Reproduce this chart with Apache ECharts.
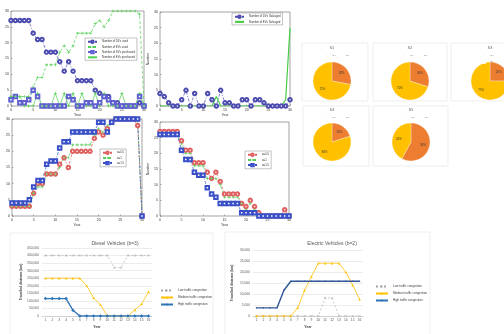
<!DOCTYPE html>
<html>
<head>
<meta charset="utf-8">
<script src="https://cdn.jsdelivr.net/npm/echarts@6/dist/echarts.min.js"></script>
<style>
html, body { margin: 0; padding: 0; background: #fff; }
#chart { width: 504px; height: 334px; }
</style>
</head>
<body>
<div id="chart"></div>
<script>
// simulation panels: one value per year
const years = [0,1,2,3,4,5,6,7,8,9,10,11,12,13,14,15,16,17,18,19,20,21,22,23,24,25,26,27,28,29,30];

const dvUsed      = [27,27,27,27,27,23,21,21,17,17,17,14,11,14,11,8,8,8,8,5,4,3,3,1,1,0,0,0,0,1,0];
const evUsed      = [3,3,3,3,3,6,9,9,13,13,13,17,19,17,19,23,23,23,23,26,27,25,27,30,30,30,30,30,30,29,0];
const dvPurchased = [2,3,1,1,2,5,3,0,0,0,0,0,0,3,2,0,0,1,1,0,1,3,2,1,0,0,0,0,0,3,0];
const evPurchased = [3,3,3,0,0,0,4,0,0,0,4,0,4,0,4,0,4,0,0,4,0,4,0,0,0,4,0,0,0,4,0];

const dvSalvaged = [4,3,1,0,0,2,5,0,4,0,0,4,2,0,5,1,1,0,0,2,2,0,2,2,1,0,0,0,0,0,2];
const evSalvaged = [0,0,0,0,0,0,0,0,0,0,0,0,0,3,0,0,0,0,0,0,0,0,0,0,0,0,0,0,0,2,25];

const riseA = [3,3,3,3,3,7,10,10,13,13,13,16,18,15,20,20,20,20,20,24,26,25,27,29,30,30,30,30,30,28,0];
const riseB = [3,3,3,3,3,7,9,9,13,13,13,15,18,18,22,22,22,22,22,25,27,26,28,29,30,30,30,30,30,30,0];
const riseC = [4,4,4,4,5,9,11,11,16,17,17,21,23,23,26,26,26,26,26,26,29,29,26,29,30,30,30,30,30,30,0];

const fallA = [27,27,27,27,27,24,21,21,17,17,17,14,12,14,11,7,7,7,7,4,3,5,3,1,0,0,0,0,0,2,0];
const fallB = [26,26,26,26,26,23,20,20,16,16,16,12,12,12,10,6,6,6,6,4,2,4,2,0,0,0,0,0,0,0,0];
const fallC = [26,26,26,26,26,21,18,18,14,13,13,9,7,6,4,4,4,4,4,1,1,1,1,0,0,0,0,0,0,0,0];

// pies
const pieTitles = ['S1','S2','S3','S4','S5'];
const pieDV = [28,30,25,20,58];
const pieEV = [72,70,75,80,42];

// bottom charts
const periods = ['1','2','3','4','5','6','7','8','9','10','11','12','13','14','15','16'];
const dieselLow  = [400000,400000,400000,400000,400000,400000,400000,400000,400000,400000,320000,320000,400000,400000,400000,400000];
const dieselMed  = [250000,250000,250000,250000,250000,250000,200000,120000,75000,0,0,0,0,40000,80000,160000];
const dieselHigh = [115000,115000,115000,115000,38000,0,0,0,0,0,0,0,0,0,0,0];
const elecLow  = [0,0,0,0,0,0,0,0,0,0,8200,8200,0,0,0,0];
const elecMed  = [0,0,0,0,0,0,3700,11700,18000,24000,24000,24000,24000,20000,14000,7600];
const elecHigh = [3700,3700,3700,3700,11700,15800,15800,15800,15800,15800,15800,15800,15800,15800,15800,15800];

const FONT = 'Liberation Sans';
const PLUS = 'path://M4,0H6V4H10V6H6V10H4V6H0V4H4Z';
const CROSS = 'path://M0,1L1,0L5,4L9,0L10,1L6,5L10,9L9,10L5,6L1,10L0,9L4,5Z';
const DASHDOT = [3, 1.5, 1, 1.5];

const pts = arr => arr.map((v, i) => [years[i], v]);

function mGrid(left, top, width, height) {
	return { left, top, width, height, show: true, borderColor: '#666', borderWidth: 0.6, backgroundColor: '#fff' };
}
function mX(gi, name) {
	return {
		gridIndex: gi, type: 'value', min: 0, max: 30, interval: 5,
		name, nameLocation: 'middle', nameGap: 7, nameTextStyle: { fontSize: 3.5, color: '#333', fontFamily: FONT },
		axisLine: { show: false }, axisTick: { inside: true, length: 1.5, lineStyle: { color: '#666', width: 0.5 } },
		axisLabel: { fontSize: 3.5, margin: 2, color: '#333', fontFamily: FONT }, splitLine: { show: false },
	};
}
function mY(gi, name) {
	return {
		gridIndex: gi, type: 'value', min: 0, max: 30, interval: 5,
		name, nameLocation: 'middle', nameGap: 7, nameTextStyle: { fontSize: 3.5, color: '#333', fontFamily: FONT },
		axisLine: { show: false }, axisTick: { inside: true, length: 1.5, lineStyle: { color: '#666', width: 0.5 } },
		axisLabel: { fontSize: 3.5, margin: 2, color: '#333', fontFamily: FONT }, splitLine: { show: false },
	};
}
function mLine(gi, name, data, color, symbol, type, width) {
	return {
		type: 'line', name, xAxisIndex: gi, yAxisIndex: gi, data: pts(data),
		symbol, symbolSize: symbol === 'none' ? 0 : (symbol === PLUS ? 3 : 3.5),
		itemStyle: { color, borderWidth: 0.7 },
		lineStyle: { color, width: width || 0.7, type },
		animation: false,
	};
}
function mLegend(left, top, names) {
	return {
		data: names, left, top, orient: 'vertical', itemWidth: 9, itemHeight: 3, itemGap: 1.5,
		padding: [1.5, 2], backgroundColor: '#fff', borderColor: '#666', borderWidth: 0.4,
		textStyle: { fontSize: 2.8, color: '#333', fontFamily: FONT }, selectedMode: false,
	};
}

// excel style charts
function xGrid(left, top, width, height) {
	return { left, top, width, height };
}
function xX(gi) {
	return {
		gridIndex: gi, type: 'category', data: periods, boundaryGap: true,
		name: 'Year', nameLocation: 'middle', nameGap: 9, nameTextStyle: { fontSize: 3.5, color: '#404040', fontFamily: FONT, fontWeight: 'bold' },
		axisLine: { lineStyle: { color: '#bfbfbf', width: 0.6 } }, axisTick: { show: false },
		axisLabel: { interval: 0, fontSize: 3.3, margin: 3, color: '#595959', fontFamily: FONT },
	};
}
function xY(gi, max, interval) {
	return {
		gridIndex: gi, type: 'value', min: 0, max, interval,
		name: 'Travelled distance (km)', nameLocation: 'middle', nameGap: 19,
		nameTextStyle: { fontSize: 3.3, color: '#404040', fontFamily: FONT, fontWeight: 'bold' },
		axisLine: { show: false }, axisTick: { show: false },
		axisLabel: { fontSize: 3.3, margin: 3, color: '#595959', fontFamily: FONT },
		splitLine: { lineStyle: { color: '#d9d9d9', width: 0.5 } },
	};
}
function xLine(gi, name, data, color, symbol, size, type, width) {
	return {
		type: 'line', name, xAxisIndex: gi, yAxisIndex: gi, data,
		symbol, symbolSize: size, itemStyle: { color },
		lineStyle: { color, width, type }, animation: false,
	};
}
function xLegend(left, top, names) {
	return {
		data: names, left, top, orient: 'vertical', itemWidth: 12, itemHeight: 3, itemGap: 4,
		textStyle: { fontSize: 3, color: '#404040', fontFamily: FONT }, selectedMode: false,
	};
}

// pies
const pieCenters = [[332, 81], [410, 81], [490, 81], [332, 142], [411, 142]];
const pieTitleTop = [46, 46, 46, 108, 108];
const pieColors = ['#ed7d31', '#ffc000'];

const legendNames1 = ['Number of DVs used', 'Number of EVs used', 'Number of DVs purchased', 'Number of EVs purchased'];
const legendNames2 = ['Number of DVs Salvaged', 'Number of EVs Salvaged'];
const legendNames3 = ['α=0.5', 'α=1', 'α=1.5'];
const trafficNames = ['Low traffic congestion', 'Medium traffic congestion', 'High traffic congestion'];

const series = [
	mLine(0, legendNames1[0], dvUsed, '#4b4bb0', 'emptyCircle', DASHDOT),
	mLine(0, legendNames1[1], evUsed, '#52d152', PLUS, [3, 2]),
	mLine(0, legendNames1[2], dvPurchased, '#6060d0', 'emptyRect', DASHDOT),
	mLine(0, legendNames1[3], evPurchased, '#52d152', PLUS, 'solid'),
	mLine(1, legendNames2[0], dvSalvaged, '#4b4bb0', 'emptyCircle', DASHDOT),
	mLine(1, legendNames2[1], evSalvaged, '#44cc44', 'none', 'solid', 1.2),
	mLine(2, legendNames3[0], riseA, '#e06060', 'emptyCircle', DASHDOT),
	mLine(2, legendNames3[1], riseB, '#5ccc5c', PLUS, [3, 2]),
	mLine(2, legendNames3[2], riseC, '#3a50c8', 'emptyRect', DASHDOT),
	mLine(3, legendNames3[0], fallA, '#e06060', 'emptyCircle', DASHDOT),
	mLine(3, legendNames3[1], fallB, '#5ccc5c', PLUS, [3, 2]),
	mLine(3, legendNames3[2], fallC, '#3a50c8', 'emptyRect', DASHDOT),
	xLine(4, trafficNames[0], dieselLow, '#a5a5a5', CROSS, 2.5, [2, 2], 0.6),
	xLine(4, trafficNames[1], dieselMed, '#ffc000', 'triangle', 2.5, 'solid', 0.8),
	xLine(4, trafficNames[2], dieselHigh, '#2e75b6', 'diamond', 3.5, 'solid', 1.4),
	xLine(5, trafficNames[0], elecLow, '#a5a5a5', CROSS, 2.5, [2, 2], 0.6),
	xLine(5, trafficNames[1], elecMed, '#ffc000', 'triangle', 2.5, 'solid', 0.8),
	xLine(5, trafficNames[2], elecHigh, '#2f5597', 'circle', 1.5, 'solid', 1.4),
];

pieCenters.forEach((c, i) => {
	series.push({
		type: 'pie', center: c, radius: 19, animation: false,
		itemStyle: { borderColor: '#fff', borderWidth: 0.3 },
		label: { position: 'inside', fontSize: 2.8, color: '#333', fontFamily: FONT, formatter: p => Math.round(p.percent) + '%' },
		labelLine: { show: false },
		data: [
			{ name: 'DV', value: pieDV[i], itemStyle: { color: pieColors[0] } },
			{ name: 'EV', value: pieEV[i], itemStyle: { color: pieColors[1] } },
		],
	});
});

const titles = [
	{ text: 'Diesel Vehicles (b=3)', left: 110, top: 236, textAlign: 'center', textStyle: { fontSize: 5, fontWeight: 'normal', color: '#595959', fontFamily: FONT } },
	{ text: 'Electric Vehicles (b=2)', left: 327, top: 236, textAlign: 'center', textStyle: { fontSize: 5, fontWeight: 'normal', color: '#595959', fontFamily: FONT } },
];
pieCenters.forEach((c, i) => {
	titles.push({ text: pieTitles[i], left: c[0], top: pieTitleTop[i], textAlign: 'center', padding: 0,
		textStyle: { fontSize: 3.5, fontWeight: 'normal', color: '#555', fontFamily: FONT } });
});

const legends = [
	mLegend(85, 38, legendNames1),
	mLegend(232, 13, legendNames2),
	mLegend(100, 149, legendNames3),
	mLegend(245, 151, legendNames3),
	xLegend(155, 284, trafficNames),
	xLegend(370, 280, trafficNames),
];
pieCenters.forEach((c, i) => {
	legends.push({
		data: ['DV', 'EV'], left: c[0] - 8, top: pieTitleTop[i] + 7, itemWidth: 2.5, itemHeight: 2.5, itemGap: 2,
		icon: 'circle', padding: 0, textStyle: { fontSize: 2.3, color: '#777', fontFamily: FONT }, selectedMode: false,
	});
});

// light frames round the pies and the two bottom charts
const frames = [
	[302, 43, 66, 58], [373, 43, 74, 58], [451, 43, 74, 58],
	[303, 106, 66, 60], [373, 106, 75, 60],
	[10, 233, 203, 110], [225, 232, 205, 110],
];

const option = {
	backgroundColor: '#fff',
	animation: false,
	textStyle: { fontFamily: FONT },
	title: titles,
	legend: legends,
	graphic: frames.map(f => ({
		type: 'rect', z: -1, silent: true,
		shape: { x: f[0], y: f[1], width: f[2], height: f[3] },
		style: { fill: '#fff', stroke: '#e3e3e3', lineWidth: 0.6 },
	})),
	grid: [
		mGrid(11, 11, 133, 95),
		mGrid(160, 12, 130, 94),
		mGrid(12, 119, 130, 97),
		mGrid(160, 122, 129, 94),
		xGrid(42, 248, 110, 68),
		xGrid(253, 250, 110, 66),
	],
	xAxis: [mX(0, 'Year'), mX(1, 'Year'), mX(2, 'Year'), mX(3, 'Year'), xX(4), xX(5)],
	yAxis: [mY(0, ''), mY(1, 'Number'), mY(2, ''), mY(3, 'Number'), xY(4, 450000, 50000), xY(5, 30000, 5000)],
	series,
};

const chart = echarts.init(document.getElementById('chart'));
chart.setOption(option);
</script>
</body>
</html>
